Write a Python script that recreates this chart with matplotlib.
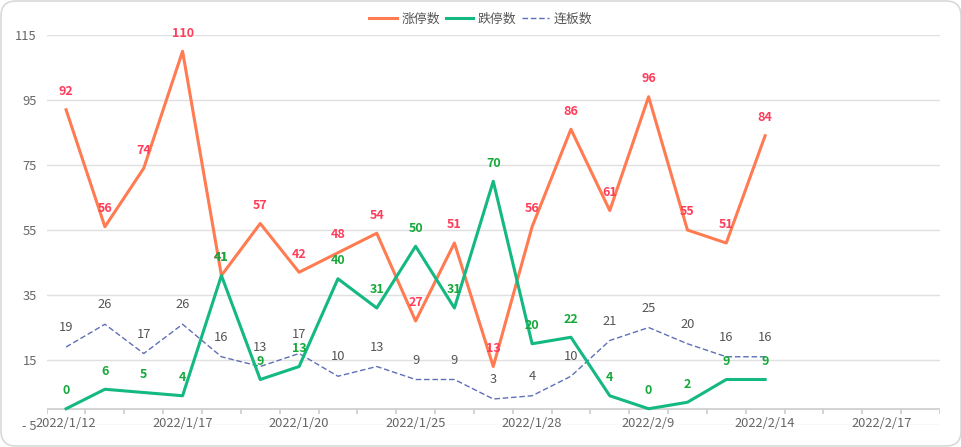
import matplotlib
matplotlib.use("Agg")
import matplotlib.pyplot as plt
from matplotlib.patches import FancyBboxPatch
from matplotlib.lines import Line2D

plt.rcParams["font.family"] = ["Noto Sans CJK SC", "DejaVu Sans"]
plt.rcParams["axes.unicode_minus"] = False

# 交易日(类目轴),只有前 19 天有数据
dates = ["2022/1/12", "2022/1/13", "2022/1/14", "2022/1/17", "2022/1/18", "2022/1/19",
         "2022/1/20", "2022/1/21", "2022/1/24", "2022/1/25", "2022/1/26", "2022/1/27",
         "2022/1/28", "2022/2/7", "2022/2/8", "2022/2/9", "2022/2/10", "2022/2/11",
         "2022/2/14", "2022/2/15", "2022/2/16", "2022/2/17", "2022/2/18"]
zhangting = [92, 56, 74, 110, 41, 57, 42, 48, 54, 27, 51, 13, 56, 86, 61, 96, 55, 51, 84]
dieting = [0, 6, 5, 4, 41, 9, 13, 40, 31, 50, 31, 70, 20, 22, 4, 0, 2, 9, 9]
lianban = [19, 26, 17, 26, 16, 13, 17, 10, 13, 9, 9, 3, 4, 10, 21, 25, 20, 16, 16]
yticks = [-5, 15, 35, 55, 75, 95, 115]

RED_LINE, RED_LBL = "#ff7b52", "#ff3d5a"
GRN_LINE, GRN_LBL = "#14b882", "#16a83a"
DASH = "#5f6fb6"

fig = plt.figure(figsize=(9.62, 4.47), dpi=100)
card = FancyBboxPatch((0.01, 0.01), 9.6, 4.45, boxstyle="round,pad=0,rounding_size=0.15",
                      transform=fig.dpi_scale_trans, facecolor="none", edgecolor="#d9d9d9",
                      lw=1.2)
fig.patches.append(card)

ax = fig.add_axes([0.0485, 0.0492, 0.9285, 0.8725])
ax.set_facecolor("none")
n = len(dates)
ax.set_xlim(-0.5, n - 0.5)
ax.set_ylim(-5, 115)
for s in ax.spines.values():
    s.set_visible(False)

ax.set_yticks(yticks)
ax.set_yticklabels([str(t).replace("-", "- ") for t in yticks])
ax.yaxis.grid(True, color="#e0e0e0", lw=1)
ax.set_axisbelow(True)
ax.tick_params(axis="y", length=0, pad=7, labelsize=9.3, labelcolor="#666666")
ax.set_xticks([])

# x 轴线画在 y=0 处,刻度在类目之间
ax.axhline(0, color="#cccccc", lw=1.2, zorder=1)
ax.vlines([i - 0.5 for i in range(n + 1)], -1.6, 0, color="#cccccc", lw=1.2, zorder=1)
for i in range(0, n, 3):
    ax.annotate(dates[i], (i, 0), xytext=(0, -10.8), textcoords="offset points",
                ha="center", va="center", fontsize=9.3, color="#666666")

x = list(range(len(zhangting)))
ax.plot(x, zhangting, color=RED_LINE, lw=2.2, zorder=3)
ax.plot(x, dieting, color=GRN_LINE, lw=2.2, zorder=3)
ax.plot(x, lianban, color=DASH, lw=1.0, ls=(0, (4, 2)), zorder=2)

for xi, v in zip(x, zhangting):
    ax.annotate(str(v), (xi, v), xytext=(0, 13), textcoords="offset points", ha="center",
                va="center", fontsize=9, fontweight="bold", color=RED_LBL, zorder=5)
for xi, v in zip(x, dieting):
    ax.annotate(str(v), (xi, v), xytext=(0, 13), textcoords="offset points", ha="center",
                va="center", fontsize=9, fontweight="bold", color=GRN_LBL, zorder=5)
for xi, v in zip(x, lianban):
    ax.annotate(str(v), (xi, v), xytext=(0, 14), textcoords="offset points", ha="center",
                va="center", fontsize=9.3, color="#555555", zorder=4)

handles = [Line2D([], [], color=RED_LINE, lw=2.2),
           Line2D([], [], color=GRN_LINE, lw=2.2),
           Line2D([], [], color=DASH, lw=1.0, ls=(0, (4, 2)))]
fig.legend(handles, ["涨停数", "跌停数", "连板数"], loc="center", bbox_to_anchor=(0.5, 0.957),
           ncol=3, frameon=False, fontsize=9.3, handlelength=2.1, handletextpad=0.4,
           columnspacing=0.4, labelcolor="#555555")

fig.savefig("out.png", dpi=100)
